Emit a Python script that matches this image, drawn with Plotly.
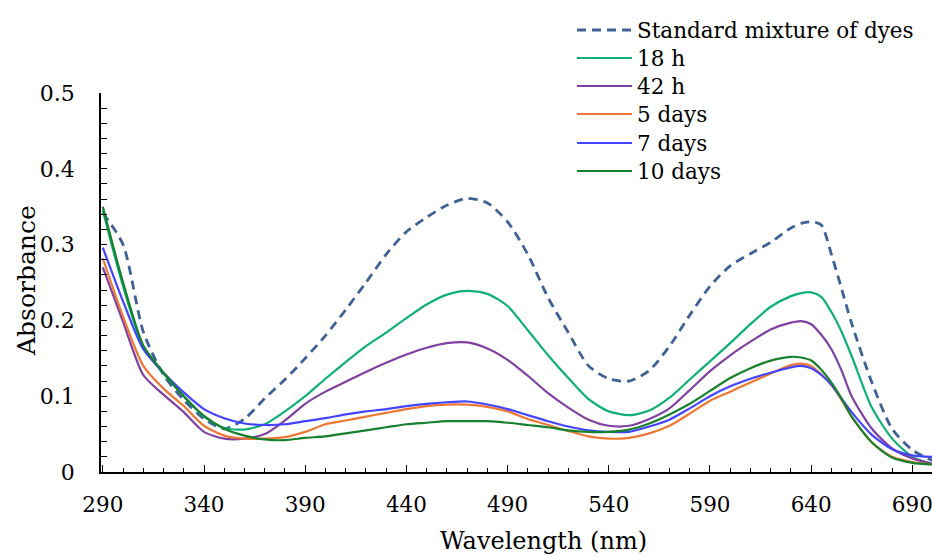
import plotly.graph_objects as go

wavelength = list(range(290, 631, 10)) + [635, 640, 645, 650, 655, 660, 670, 680, 690, 700]

standard = [0.342, 0.300, 0.185, 0.128, 0.095, 0.070, 0.057, 0.070, 0.097, 0.122,
            0.150, 0.180, 0.214, 0.250, 0.287, 0.317, 0.336, 0.352, 0.361, 0.355,
            0.330, 0.287, 0.230, 0.184, 0.140, 0.123, 0.120, 0.134, 0.166, 0.207,
            0.245, 0.272, 0.288, 0.303, 0.322,
            0.328, 0.330, 0.326, 0.287, 0.242, 0.196, 0.118, 0.057, 0.029, 0.015]

h18 = [0.345, 0.245, 0.165, 0.130, 0.100, 0.073, 0.058, 0.056, 0.063, 0.080,
       0.100, 0.123, 0.145, 0.166, 0.184, 0.203, 0.221, 0.234, 0.239, 0.235,
       0.219, 0.187, 0.154, 0.124, 0.096, 0.080, 0.075, 0.081, 0.098, 0.122,
       0.146, 0.170, 0.195, 0.218, 0.232,
       0.236, 0.237, 0.231, 0.211, 0.185, 0.153, 0.085, 0.044, 0.020, 0.010]

h42 = [0.270, 0.198, 0.128, 0.102, 0.079, 0.053, 0.044, 0.044, 0.050, 0.068,
       0.090, 0.106, 0.119, 0.132, 0.144, 0.155, 0.164, 0.170, 0.171, 0.163,
       0.148, 0.127, 0.104, 0.085, 0.069, 0.061, 0.061, 0.070, 0.084, 0.108,
       0.133, 0.154, 0.172, 0.188, 0.197,
       0.199, 0.195, 0.181, 0.162, 0.134, 0.100, 0.057, 0.031, 0.018, 0.011]

d5 = [0.282, 0.205, 0.140, 0.110, 0.087, 0.061, 0.048, 0.044, 0.044, 0.046,
      0.053, 0.063, 0.068, 0.073, 0.078, 0.083, 0.087, 0.089, 0.089, 0.086,
      0.080, 0.070, 0.062, 0.054, 0.047, 0.044, 0.045, 0.051, 0.061, 0.077,
      0.094, 0.106, 0.118, 0.130, 0.141,
      0.143, 0.140, 0.129, 0.115, 0.095, 0.073, 0.039, 0.020, 0.013, 0.010]

d7 = [0.296, 0.225, 0.162, 0.131, 0.105, 0.083, 0.071, 0.064, 0.062, 0.063,
      0.067, 0.071, 0.076, 0.080, 0.083, 0.087, 0.090, 0.092, 0.093, 0.089,
      0.083, 0.075, 0.067, 0.060, 0.055, 0.053, 0.053, 0.060, 0.069, 0.084,
      0.100, 0.113, 0.123, 0.131, 0.138,
      0.140, 0.137, 0.128, 0.115, 0.097, 0.079, 0.049, 0.030, 0.022, 0.020]

d10 = [0.350, 0.250, 0.167, 0.131, 0.100, 0.074, 0.057, 0.048, 0.043, 0.042,
       0.045, 0.047, 0.051, 0.055, 0.059, 0.063, 0.065, 0.067, 0.067, 0.067,
       0.065, 0.062, 0.059, 0.055, 0.053, 0.053, 0.056, 0.064, 0.076, 0.090,
       0.107, 0.124, 0.137, 0.147, 0.152,
       0.151, 0.147, 0.135, 0.118, 0.097, 0.073, 0.039, 0.019, 0.012, 0.010]

x_tick_values = [290, 340, 390, 440, 490, 540, 590, 640, 690]

series_names = ["Standard mixture of dyes", "18 h", "42 h", "5 days", "7 days", "10 days"]
series_values = [standard, h18, h42, d5, d7, d10]
series_colors = ["#3f6196", "#0fb074", "#8040a2", "#ee7733", "#4444ff", "#17802e"]
series_dash = ["9px,6px", "solid", "solid", "solid", "solid", "solid"]

FONT = "DejaVu Serif"
W, H = 932, 556
legend_centers_px = [30, 58, 86, 114, 143, 171]

fig = go.Figure()
layout_legends = {}
for i, (name, vals, color, dash) in enumerate(zip(series_names, series_values, series_colors, series_dash)):
    lname = "legend" if i == 0 else f"legend{i + 1}"
    fig.add_trace(go.Scatter(
        x=wavelength, y=vals, name=name, mode="lines", legend=lname,
        line=dict(color=color, width=2.8 if dash != "solid" else 2.2, dash=dash,
                  shape="spline", smoothing=0.7),
    ))
    layout_legends[lname] = dict(
        xref="container", yref="container",
        x=572 / W, y=1 - legend_centers_px[i] / H, xanchor="left", yanchor="middle",
        bgcolor="rgba(0,0,0,0)", borderwidth=0,
        font=dict(family=FONT, size=21.5, color="black"),
        itemwidth=55,
    )

fig.update_layout(
    width=W, height=H,
    margin=dict(l=101, r=0, t=93, b=84, autoexpand=False),
    plot_bgcolor="white", paper_bgcolor="white",
    font=dict(family=FONT, size=22, color="black"),
    showlegend=True,
    **layout_legends,
)

fig.update_xaxes(
    range=[289.1, 699.7],
    tickmode="array", tickvals=x_tick_values,
    showline=True, linecolor="black", linewidth=1.5,
    showgrid=False, zeroline=False, mirror=False,
    ticks="inside", ticklen=7, tickwidth=1.2, tickcolor="black",
    minor=dict(tickmode="linear", tick0=290, dtick=10, ticks="inside", ticklen=4,
               tickwidth=1.2, tickcolor="black", showgrid=False),
    tickfont=dict(family=FONT, size=21.5),
    ticklabelstandoff=12,
    ticklabeloverflow="allow",
)
fig.update_yaxes(
    range=[0, 0.5], dtick=0.1, tick0=0,
    showline=True, linecolor="black", linewidth=1.5,
    showgrid=False, zeroline=False, mirror=False,
    ticks="inside", ticklen=6, tickwidth=1.2, tickcolor="black",
    minor=dict(dtick=0.02, ticks="inside", ticklen=6, tickwidth=1.2,
               tickcolor="black", showgrid=False),
    tickfont=dict(family=FONT, size=22),
    ticklabelstandoff=20,
)

plot_w = W - 101
plot_h = H - 93 - 84
fig.add_annotation(text="Wavelength (nm)", xref="paper", yref="paper",
                   x=(543 - 101) / plot_w, y=(472 - 541) / plot_h,
                   showarrow=False, xanchor="center", yanchor="middle",
                   font=dict(family=FONT, size=24, color="black"))
fig.add_annotation(text="Absorbance", xref="paper", yref="paper",
                   x=(26 - 101) / plot_w, y=(472 - 281) / plot_h, textangle=-90,
                   showarrow=False, xanchor="center", yanchor="middle",
                   font=dict(family=FONT, size=25, color="black"))

fig.write_html("out.html")
